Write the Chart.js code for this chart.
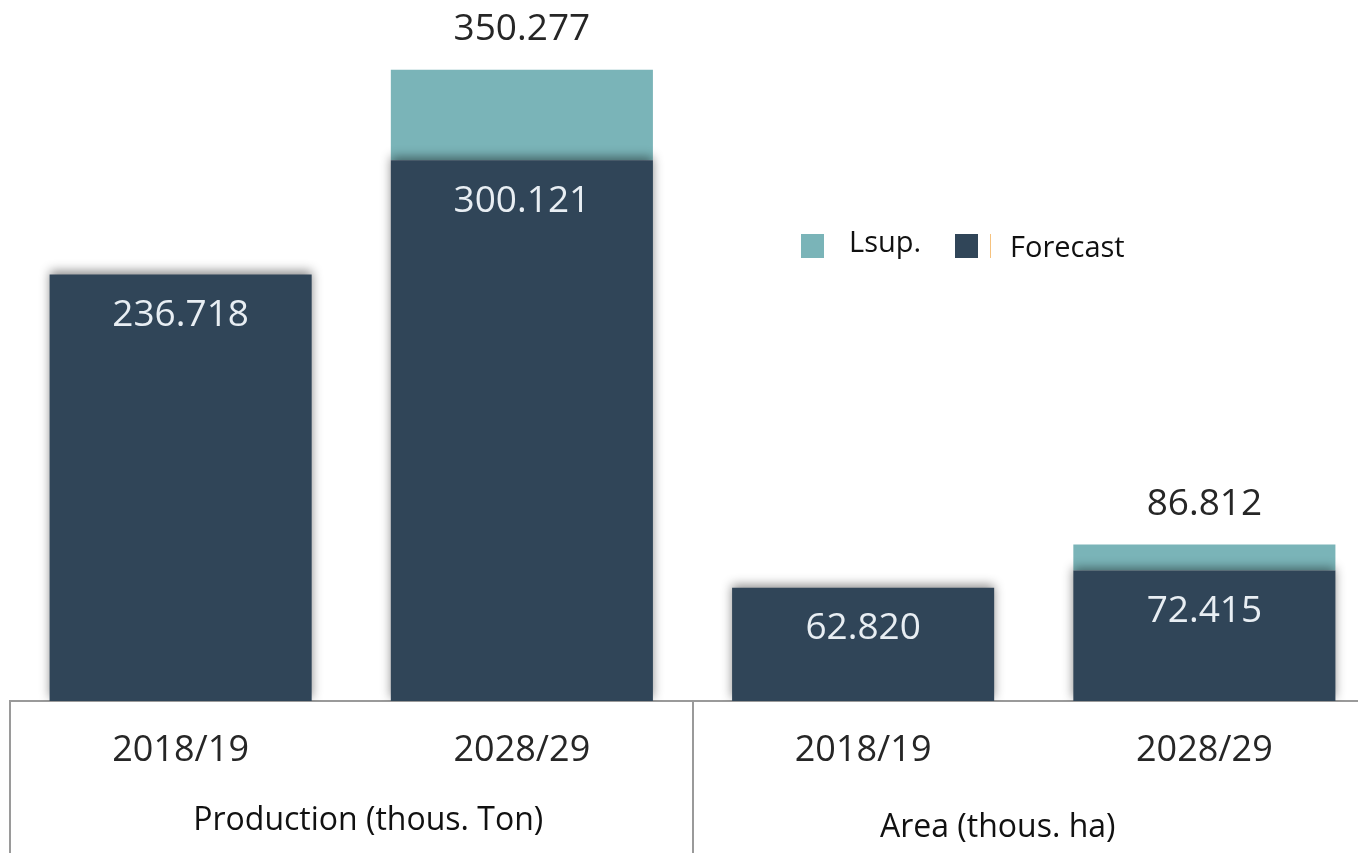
<!DOCTYPE html>
<html>
<head>
<meta charset="utf-8">
<script src="https://cdn.jsdelivr.net/npm/chart.js@4.4.0/dist/chart.umd.min.js"></script>
<style>
  html, body { margin:0; padding:0; background:#fff; overflow:hidden; }
  #wrap { position:relative; width:1375px; height:853px; }
  .lg { position:absolute; font-family:'Open Sans', sans-serif; font-size:29px; color:#111; line-height:1; }
  .sw { position:absolute; width:23px; height:24px; }
</style>
</head>
<body>
<div id="wrap">
  <canvas id="chart"></canvas>
  <div class="sw" id="sw-lsup" style="left:801px;top:234px"></div>
  <div class="lg" style="left:849px;top:226px">Lsup.</div>
  <div class="sw" id="sw-fc" style="left:955px;top:234px"></div>
  <div style="position:absolute;left:990px;top:234px;width:1px;height:24px;background:#f6c27e"></div>
  <div class="lg" style="left:1010px;top:231px">Forecast</div>
</div>
<script>
// ------------------------------------------------------------
// data
// ------------------------------------------------------------
const categories = ['2018/19', '2028/29', '2018/19', '2028/29'];
const groups = ['Production (thous. Ton)', 'Area (thous. ha)'];
const groupSize = 2;
const forecast = [236.718, 300.121, 62.820, 72.415];
const lsupTotal = [null, 350.277, null, 86.812];

const COL_FC = '#304558', COL_LSUP = '#7ab4b8';
document.getElementById('sw-lsup').style.background = COL_LSUP;
document.getElementById('sw-fc').style.background = COL_FC;

// Lsup. is stacked on top of the forecast
const lsupExtra = lsupTotal.map((t, i) => t == null ? 0 : t - forecast[i]);

// shadow under the forecast bars (top edge)
const shadowPlugin = {
  id: 'barShadow',
  beforeDatasetDraw(chart, args) {
    if (args.index !== 0) return;
    const ctx = chart.ctx;
    ctx.save();
    ctx.shadowColor = 'rgba(0,0,0,0.45)';
    ctx.shadowBlur = 10;
    ctx.shadowOffsetY = -3;
  },
  afterDatasetDraw(chart, args) {
    if (args.index === 0) chart.ctx.restore();
  }
};

// value labels, group separators and group titles
const labelPlugin = {
  id: 'labels',
  afterDatasetsDraw(chart) {
    const ctx = chart.ctx;
    const fcMeta = chart.getDatasetMeta(0);
    ctx.save();
    ctx.font = '37px "Open Sans", sans-serif';
    ctx.textAlign = 'center';
    ctx.textBaseline = 'middle';
    fcMeta.data.forEach((bar, i) => {
      ctx.fillStyle = '#e8eef3';
      ctx.fillText(forecast[i].toFixed(3), bar.x, bar.y + 41);
      if (lsupTotal[i] != null) {
        const top = chart.scales.y.getPixelForValue(lsupTotal[i]);
        ctx.fillStyle = '#262626';
        ctx.fillText(lsupTotal[i].toFixed(3), bar.x, top - 40);
      }
    });

    const xs = chart.scales.x, area = chart.chartArea;
    const step = xs.getPixelForTick(1) - xs.getPixelForTick(0);
    ctx.strokeStyle = '#9a9a9a';
    ctx.lineWidth = 2;
    for (let g = 0; g <= groups.length; g++) {
      const x = Math.round(xs.getPixelForTick(Math.min(g * groupSize, categories.length - 1)) + (g * groupSize >= categories.length ? step / 2 : -step / 2));
      ctx.beginPath();
      ctx.moveTo(x, area.bottom);
      ctx.lineTo(x, chart.height);
      ctx.stroke();
    }
    // titles sit a little off the group centre in the original
    const nudge = [{ dx: 17, dy: 120 }, { dx: -36, dy: 127 }];
    ctx.fillStyle = '#111';
    ctx.font = '32px "Open Sans", sans-serif';
    groups.forEach((name, g) => {
      const a = xs.getPixelForTick(g * groupSize), b = xs.getPixelForTick(g * groupSize + groupSize - 1);
      ctx.fillText(name, (a + b) / 2 + nudge[g].dx, area.bottom + nudge[g].dy);
    });
    ctx.restore();
  }
};

new Chart(document.getElementById('chart'), {
  type: 'bar',
  data: {
    labels: categories,
    datasets: [
      { label: 'Forecast', data: forecast, backgroundColor: COL_FC, borderWidth: 0 },
      { label: 'Lsup.', data: lsupExtra, backgroundColor: COL_LSUP, borderWidth: 0 }
    ]
  },
  options: {
    responsive: true, maintainAspectRatio: false, animation: false,
    layout: { padding: { left: 10, right: 0, top: 0, bottom: 0 } },
    plugins: { legend: { display: false }, tooltip: { enabled: false } },
    datasets: { bar: { categoryPercentage: 1, barPercentage: 0.768 } },
    scales: {
      x: {
        stacked: true,
        grid: { display: false, drawTicks: false },
        border: { display: true, color: '#9a9a9a', width: 2 },
        ticks: { color: '#262626', font: { family: 'Open Sans', size: 36 }, padding: 28, maxRotation: 0, autoSkip: false },
        afterFit(scale) { scale.height = 152; }
      },
      y: { stacked: true, display: false, min: 0, max: 389 }
    }
  },
  plugins: [shadowPlugin, labelPlugin]
});
</script>
</body>
</html>
